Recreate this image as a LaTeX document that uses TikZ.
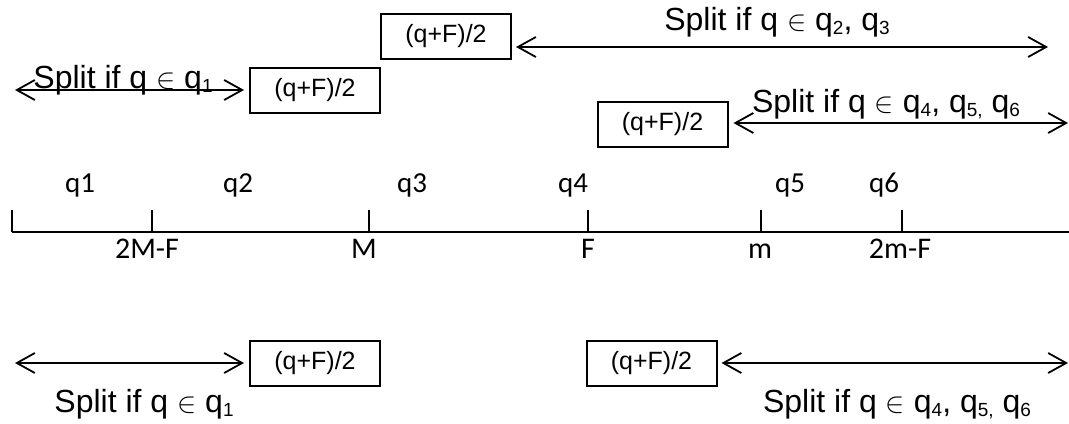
\documentclass[tikz,border=0pt]{standalone}
\usepackage{fontspec}
\setmainfont{Liberation Sans}
\newfontfamily\axisfont{Carlito}
\usetikzlibrary{arrows.meta}
\newcommand{\qsub}[1]{\raisebox{-2pt}{\fontsize{9.5}{9.5}\selectfont #1}}
\newcommand{\qin}{{\fontsize{14}{14}\selectfont$\in$}}

\begin{document}
\begin{tikzpicture}[x=0.5pt,y=-0.5pt,
  qbox/.style={draw, line width=1pt, minimum width=65pt, minimum height=22.5pt, inner sep=0pt, font=\fontsize{12.5}{15}\selectfont},
  splitlbl/.style={anchor=base, inner sep=0pt, font=\fontsize{16}{19}\selectfont},
  qlbl/.style={anchor=base, inner sep=0pt, font=\axisfont\fontsize{14.5}{17}\selectfont},
  axlbl/.style={anchor=base, inner sep=0pt, font=\axisfont\fontsize{15}{18}\selectfont},
  dblarrow/.style={line width=0.9pt, {Straight Barb[length=9pt,width=10pt]}-{Straight Barb[length=9pt,width=10pt]}},
  axisline/.style={line width=1.4pt},
  tickline/.style={line width=0.8pt}]
            \useasboundingbox (0,0) rectangle (1069,423);

            % 数轴
            \coordinate (a0) at (12,232);
            \coordinate (a1) at (1069,232);
            \draw[axisline] (a0) -- (a1);
            \foreach \x in {12,152,369,588,761,902}
                \draw[tickline] (\x,232) -- (\x,210);

            % 区间
            \node[qlbl] (q1) at (80,192) {q1};
            \node[qlbl] (q2) at (238,192) {q2};
            \node[qlbl] (q3) at (412,192) {q3};
            \node[qlbl] (q4) at (573,192) {q4};
            \node[qlbl] (q5) at (790,192) {q5};
            \node[qlbl] (q6) at (884,192) {q6};

            % 刻度
            \node[axlbl] (l2MF) at (147,258) {2M-F};
            \node[axlbl] (lM) at (364,258) {M};
            \node[axlbl] (lF) at (588,258) {F};
            \node[axlbl] (lm) at (760,258) {m};
            \node[axlbl] (l2mF) at (900,258) {2m-F};

            % 上方
            \node[qbox] (boxA) at (446,36.5) {(q+F)/2};
            \coordinate (endA) at (1048,47);
            \draw[dblarrow, shorten <=2pt] (boxA.east |- endA) -- (endA);
            \node[splitlbl] (sA) at (777,30) {Split if q \qin{} q\qsub{2}, q\qsub{3}};

            \node[qbox] (boxB) at (315,90.5) {(q+F)/2};
            \coordinate (endB) at (15,90);
            \draw[dblarrow, shorten >=2.5pt] (endB) -- (boxB.west |- endB);
            \node[splitlbl] (sB) at (123,88) {Split if q \qin{} q\qsub{1}};

            \node[qbox] (boxC) at (662.5,124.5) {(q+F)/2};
            \coordinate (endC) at (1068,123);
            \draw[dblarrow, shorten <=2.5pt] (boxC.east |- endC) -- (endC);
            \node[splitlbl] (sC) at (886,112) {Split if q \qin{} q\qsub{4}, q\qsub{5,} q\qsub{6}};

            % 下方
            \node[qbox] (boxD) at (315,363) {(q+F)/2};
            \coordinate (endD) at (15,363);
            \draw[dblarrow, shorten >=2.5pt] (endD) -- (boxD.west);
            \node[splitlbl] (sD) at (144,412) {Split if q \qin{} q\qsub{1}};

            \node[qbox] (boxE) at (651.5,363) {(q+F)/2};
            \coordinate (endE) at (1068,363);
            \draw[dblarrow, shorten <=2pt] (boxE.east) -- (endE);
            \node[splitlbl] (sE) at (897,412) {Split if q \qin{} q\qsub{4}, q\qsub{5,} q\qsub{6}};
        \end{tikzpicture}
\end{document}
